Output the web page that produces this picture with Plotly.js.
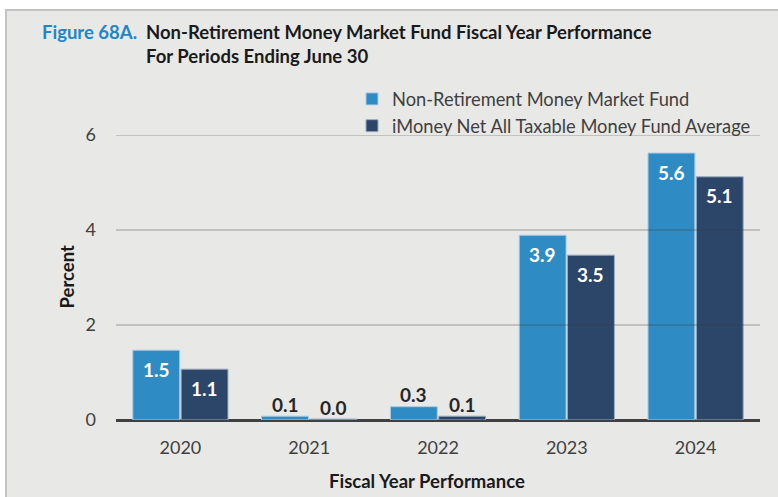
<!DOCTYPE html>
<html>
<head>
<meta charset="utf-8">
<script src="https://cdn.plot.ly/plotly-3.0.1.min.js"></script>
<style>
    body { margin: 0; background: #ffffff; }
    #chart {
        position: absolute; left: 5px; top: 9px;
        width: 771px; height: 486px;
        border-left: 2px solid #c3c3c3; border-top: 2px solid #c3c3c3;
        background: #e8e8e7;
    }
</style>
</head>
<body>
<div id="chart"></div>
<script>
// fiscal years ending June 30
var years = ["2020", "2021", "2022", "2023", "2024"];
var fundName = "Non-Retirement Money Market Fund";
var avgName = "iMoney Net All Taxable Money Fund Average";
var fundReturns = [1.47, 0.08, 0.28, 3.89, 5.62];
var avgReturns = [1.07, 0.02, 0.08, 3.47, 5.12];
var gridVals = [2, 4, 6];

// plot area in px inside the div
var W = 771, H = 486;
var M = {l: 109, r: 18, t: 124, b: 77};
var PW = W - M.l - M.r, PH = H - M.t - M.b;
function px(x) { return (x - M.l) / PW; }
function py(y) { return 1 - (y - M.t) / PH; }

var FONT = "Lato, 'Open Sans', sans-serif";
var BARGAP = 0.25, GROUPGAP = 0.03;

var traces = [
    {
        type: "bar", name: fundName, x: years, y: fundReturns, hoverinfo: "skip",
        marker: {color: "#2e8bc4", line: {color: "#a9cbe4", width: 1}}
    },
    {
        type: "bar", name: avgName, x: years, y: avgReturns, hoverinfo: "skip",
        marker: {color: "#2b4669", line: {color: "#9aaabd", width: 1}}
    }
];

// value labels: inside near the top for tall bars, just above for short ones
// (x given as category index, strings like "2020" get read as numbers)
var catW = PW / years.length;
var barOff = catW * (1 - BARGAP) / 4;
var labels = [];
[fundReturns, avgReturns].forEach((vals, s) => {
    vals.forEach((v, i) => {
        var inside = v >= 1;
        labels.push({
            text: v.toFixed(1), x: i, y: v, xref: "x", yref: "y",
            xshift: s == 0 ? -barOff : barOff,
            yshift: inside ? -19 : 12,
            xanchor: "center", yanchor: "middle", showarrow: false,
            font: {family: FONT, size: 19, weight: "bold", color: inside ? "#ffffff" : "#262626"}
        });
    });
});

// gridlines sit in front of the bars in the original
var shapes = gridVals.map(v => ({
    type: "line", xref: "paper", yref: "y", layer: "above",
    x0: 0, x1: 1, y0: v, y1: v,
    line: {color: "rgba(60,60,60,0.3)", width: 1.5}
}));

var titleFont = {family: FONT, size: 18.5, color: "#1a1a1a", weight: "bold"};

var layout = {
    width: W, height: H,
    margin: M,
    paper_bgcolor: "#e8e8e7",
    plot_bgcolor: "#e8e8e7",
    font: {family: FONT, color: "#404040"},
    barmode: "group",
    bargap: BARGAP,
    bargroupgap: GROUPGAP,
    showlegend: true,
    legend: {
        x: px(385 - 40), xanchor: "left",
        y: py(101.5), yanchor: "middle",
        bgcolor: "rgba(0,0,0,0)",
        font: {family: FONT, size: 18.3, color: "#404040"},
        tracegroupgap: 0
    },
    xaxis: {
        type: "category",
        range: [-0.5, years.length - 0.5],
        showgrid: false,
        tickfont: {family: FONT, size: 18, color: "#404040"},
        ticklabelstandoff: 15,
        showline: false,
        fixedrange: true
    },
    yaxis: {
        range: [0, 6],
        tickvals: [0, 2, 4, 6],
        showgrid: false,
        zeroline: true,
        zerolinecolor: "#404040",
        zerolinewidth: 3,
        tickfont: {family: FONT, size: 18, color: "#404040"},
        ticklabelstandoff: 19,
        fixedrange: true
    },
    shapes: shapes,
    annotations: labels.concat([
        {text: "Figure 68A.", xref: "paper", yref: "paper", x: px(33), y: py(21),
         xanchor: "left", yanchor: "middle", showarrow: false,
         font: Object.assign({}, titleFont, {color: "#1f86c8"})},
        {text: "Non-Retirement Money Market Fund Fiscal Year Performance", xref: "paper", yref: "paper",
         x: px(137), y: py(21), xanchor: "left", yanchor: "middle", showarrow: false,
         font: titleFont},
        {text: "For Periods Ending June 30", xref: "paper", yref: "paper",
         x: px(137), y: py(44.5), xanchor: "left", yanchor: "middle", showarrow: false,
         font: titleFont},
        {text: "Percent", xref: "paper", yref: "paper", x: px(59), y: 0.5, textangle: -90,
         xanchor: "center", yanchor: "middle", showarrow: false,
         font: titleFont},
        {text: "Fiscal Year Performance", xref: "paper", yref: "paper", x: px(420), y: py(470),
         xanchor: "center", yanchor: "middle", showarrow: false,
         font: titleFont}
    ])
};

Plotly.newPlot("chart", traces, layout, {displayModeBar: false, staticPlot: true});
</script>
</body>
</html>
